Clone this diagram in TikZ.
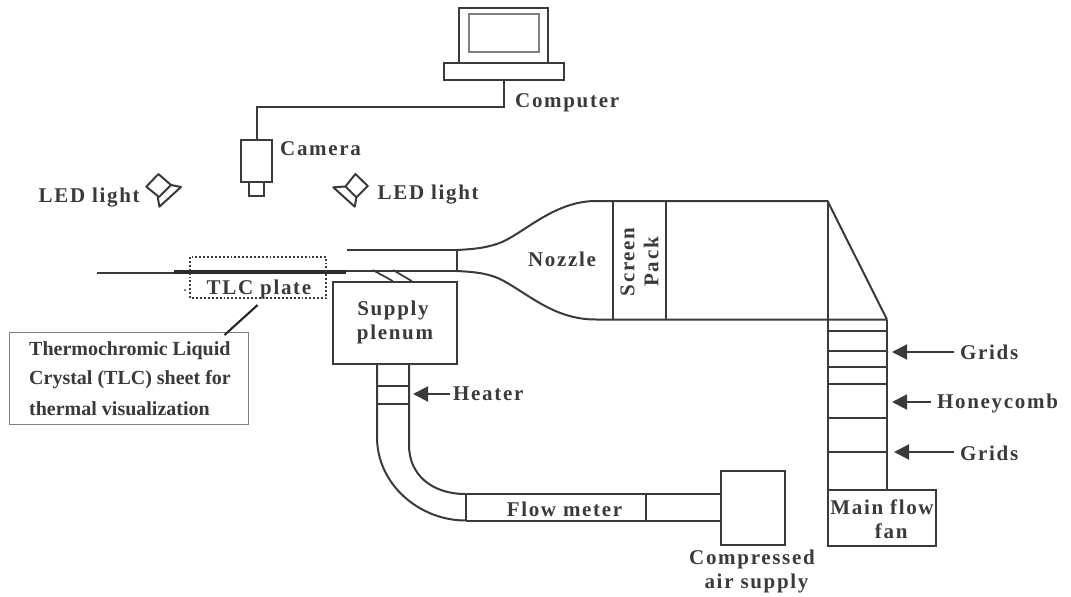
\documentclass[tikz,border=0pt]{standalone}
\usepackage{fontspec}
\setmainfont{Liberation Serif}
\newfontfamily\lblfont{Liberation Serif}[LetterSpace=8]
\usetikzlibrary{arrows.meta}
\definecolor{ink}{RGB}{58,58,58}
\definecolor{txt}{RGB}{58,58,58}
\tikzset{
  px/.style={x=1pt,y=-1pt},
  ln/.style={draw=ink,line width=2pt,line join=miter},
  bx/.style={ln,fill=white,inner sep=0pt,outer sep=0pt},
  lbl/.style={text=txt,font=\fontsize{21}{24}\lblfont\bfseries,inner sep=0pt,align=center},
  callout/.style={draw=ink,line width=2pt,-{Triangle[length=15pt,width=15pt]},shorten >=5pt,shorten <=6pt},
  notebox/.style={draw=gray,fill=white,line width=1pt,inner sep=0pt,outer sep=0pt,minimum width=239.5pt,minimum height=92pt},
  notetxt/.style={text=txt,font=\fontsize{20}{28.6}\selectfont\bfseries,inner sep=0pt,align=left,anchor=west}
}
\begin{document}
\begin{tikzpicture}[px]
\useasboundingbox (0,0) rectangle (1071,597);
% computer
\draw[ln] (458.5,63) -- (458.5,8) -- (548,8) -- (548,63);
\draw[draw=gray,line width=1.6pt] (469,14) rectangle (539,52);
\node[bx,minimum width=120pt,minimum height=17pt] (base) at (504,71) {};
\node[lbl,anchor=west] (computer) at (515,102.5) {Computer};
% camera
\node[bx,minimum width=31pt,minimum height=42pt] (cam) at (256.5,161) {};
\node[bx,minimum width=15pt,minimum height=14pt] (lens) at (256.5,189) {};
\draw[ln] (base.south) -- ++(0,27) -| (cam.north);
\node[lbl,anchor=west] (camlbl) at (280,149) {Camera};
% LED lights
\draw[ln,line join=round] (158.4,174) -- (146.3,186.7) -- (159,197) -- (171,185) -- cycle;
\draw[ln,line join=round] (171,185) -- (181,187) -- (159.4,206.7) -- (157.7,197);
\draw[ln,line join=round] (355.4,174) -- (345.4,186.5) -- (356.4,197.3) -- (367.8,186) -- cycle;
\draw[ln,line join=round] (345.4,186.5) -- (333.3,187.3) -- (354.7,206.7) -- (356.4,197.3);
\node[lbl,anchor=west] (ledl) at (38.5,198) {LED light};
\node[lbl,anchor=west] (ledr) at (377.5,194.5) {LED light};
% test section
\coordinate (ductL) at (97,273);
\coordinate (plateL) at (174,273);
\coordinate (plateR) at (345.5,272);
\coordinate (throatT) at (456.5,250);
\coordinate (throatB) at (456.5,271);
\draw[ln] (ductL) -- (plateL);
\draw[draw=ink!75!black,line width=4.8pt] (174,272) -- (plateR);
\draw[ln] (plateR |- throatB) -- (throatB);
\draw[ln] (347,250) -- (throatT) -- (throatB);
\draw[ln,line width=1.7pt] (372.7,270) -- (392.7,281);
\draw[ln,line width=1.7pt] (393,270) -- (411.7,281);
\draw[draw=ink,line width=1.9pt,dotted] (190.4,257) rectangle (326.4,298);
\fill[ink] (185,290) circle (1pt);
\node[lbl,anchor=west] (tlc) at (206.5,289.5) {TLC plate};
% note
\node[notebox] (note) at (128.8,378) {};
\node[notetxt] at (29,351) {Thermochromic Liquid};
\node[notetxt] at (29,380) {Crystal (TLC) sheet for};
\node[notetxt] at (29,408.5) {thermal visualization};
\coordinate (leadtop) at (257.6,305);
\draw[draw=black!85,line width=2.1pt] (leadtop) -- (224.5,335);
% nozzle and settling chamber
\coordinate (chTL) at (827.5,201);
\coordinate (chBR) at (887,319.5);
\draw[ln] (throatT) .. controls (478,249) and (490,247) .. (502,242)
  .. controls (525,232) and (555,201) .. (596,201) -- (chTL) -- (chBR);
\draw[ln] (throatB) .. controls (478,272) and (490,274) .. (502,280)
  .. controls (530,295) and (555,320) .. (597,319.5) -- (chBR);
\draw[ln] (612.5,201) -- (612.5,319.5);
\draw[ln] (665.5,201) -- (665.5,319.5);
\node[lbl] (nozzle) at (562,259) {Nozzle};
\node[lbl,rotate=90] (screen) at (639.5,262) {Screen\\Pack};
% vertical leg
\node[bx,minimum width=108.5pt,minimum height=56pt] (fan) at (881.8,518) {};
\node[lbl] (fanlbl) at (882,519.5) {Main flow\\\phantom{x}\hspace{8pt}fan};
\draw[ln] (chTL) -- (chTL |- fan.north);
\draw[ln] (chBR) -- (chBR |- fan.north);
\foreach \yy in {331,351,367,384,418,452}
  \draw[ln] (827.5,\yy) -- (887,\yy);
\node[lbl,anchor=west] (grid1) at (960,352) {Grids};
\node[lbl,anchor=west] (honey) at (937,403) {Honeycomb};
\node[lbl,anchor=west] (grid2) at (960,453) {Grids};
\coordinate (w1) at (887,352);
\coordinate (w2) at (887,402);
\coordinate (w3) at (889,452);
\draw[callout] (grid1.west) -- (w1);
\draw[callout] (honey.west |- w2) -- (w2);
\draw[callout] (grid2.west |- w3) -- (w3);
% plenum and heater
\node[bx,minimum width=124pt,minimum height=82pt] (plen) at (395,323) {};
\node[lbl,anchor=center] (supply) at (393,310.5) {Supply};
\node[lbl,anchor=center] (plenum) at (395,334.5) {plenum};
\coordinate (tubeL) at (377,364);
\coordinate (tubeR) at (409,364);
\coordinate (fmTL) at (465.5,494);
\coordinate (fmBL) at (465.5,520.5);
\draw[ln] (tubeL) -- (377,437) .. controls (377,485) and (420,520.5) .. (fmBL);
\draw[ln] (tubeR) -- (409,445) .. controls (409,475) and (432,494) .. (fmTL);
\draw[ln] (fmTL) -- (fmBL);
\draw[ln] (377,386) -- (409,386);
\draw[ln] (377,403.5) -- (409,403.5);
\node[lbl,anchor=west] (heater) at (453,394) {Heater};
\coordinate (w4) at (408,394);
\draw[callout,shorten <=3pt] (heater.west) -- (w4);
% flow meter and compressed air
\node[bx,minimum width=64pt,minimum height=74pt] (air) at (753,508) {};
\draw[ln] (fmTL) -- (fmTL -| air.west);
\draw[ln] (fmBL) -- (fmBL -| air.west);
\draw[ln] (645.8,494) -- (645.8,520.5);
\node[lbl] (fm) at (564.5,509.5) {Flow meter};
\node[lbl] (airlbl) at (752,571) {Compressed\\\hspace{9pt}air supply};
\end{tikzpicture}
\end{document}
